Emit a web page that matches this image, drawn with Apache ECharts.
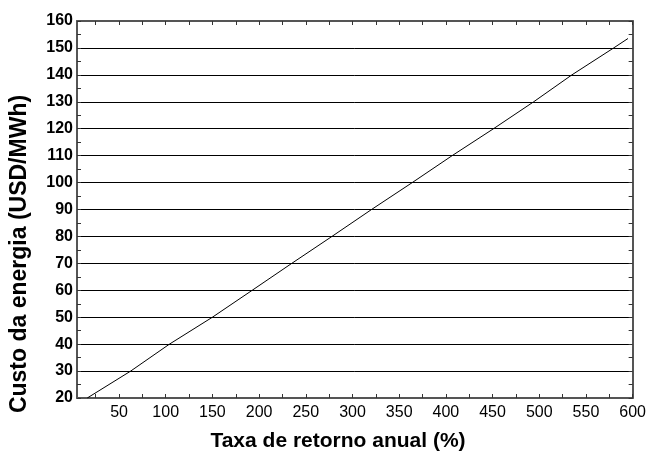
<!DOCTYPE html>
<html>
<head>
<meta charset="utf-8">
<script src="https://cdn.jsdelivr.net/npm/echarts@6/dist/echarts.min.js"></script>
<style>html,body{margin:0;padding:0;background:#fff}#c{width:649px;height:452px}</style>
</head>
<body>
<div id="c"></div>
<script>
// Data
var taxa = [16, 62.5, 104, 150, 192.6, 235, 278, 320.4, 364, 406.7, 451, 494, 535, 579.7, 595];
var custo = [20, 30, 40, 50, 60, 70, 80, 90, 100, 110, 120, 130, 140, 150, 153.5];
var xLabels = [50, 100, 150, 200, 250, 300, 350, 400, 450, 500, 550, 600];
var xTicks = [25, 50, 75, 100, 125, 150, 175, 200, 225, 250, 275, 300, 325, 350, 375, 400, 425, 450, 475, 500, 525, 550, 575, 600];
var yLabels = [20, 30, 40, 50, 60, 70, 80, 90, 100, 110, 120, 130, 140, 150, 160];
var yTicks = [20, 25, 30, 35, 40, 45, 50, 55, 60, 65, 70, 75, 80, 85, 90, 95, 100, 105, 110, 115, 120, 125, 130, 135, 140, 145, 150, 155, 160];
var xTitle = 'Taxa de retorno anual (%)';
var yTitle = 'Custo da energia (USD/MWh)';

var data = taxa.map(function (x, i) { return [x, custo[i]]; });
var font = '"Liberation Sans", Arial, sans-serif';
var axisLineStyle = { color: '#555', width: 2 };

function xAxisDef(pos, showLabel) {
  return {
    type: 'value', position: pos, min: 5, max: 600,
    axisLine: { show: true, onZero: false, lineStyle: axisLineStyle },
    axisTick: { show: true, inside: true, length: 4, customValues: xTicks, lineStyle: { color: '#333', width: 1 } },
    axisLabel: { show: showLabel, customValues: xLabels, color: '#000', fontFamily: font, fontSize: 16, margin: 7 },
    splitLine: { show: false }
  };
}
function yAxisDef(pos, showLabel) {
  return {
    type: 'value', position: pos, min: 20, max: 160, interval: 10,
    axisLine: { show: true, onZero: false, lineStyle: axisLineStyle },
    axisTick: { show: true, inside: true, length: 4, customValues: yTicks, lineStyle: { color: '#333', width: 1 } },
    axisLabel: { show: showLabel, customValues: yLabels, color: '#000', fontFamily: font, fontSize: 16, fontWeight: 'bold', margin: 4 },
    splitLine: { show: false }
  };
}

var chart = echarts.init(document.getElementById('c'), null, { renderer: 'canvas' });
chart.setOption({
  animation: false,
  backgroundColor: '#fff',
  grid: { left: 77, right: 15, top: 21, bottom: 54 },
  xAxis: [xAxisDef('bottom', true), xAxisDef('top', false)],
  yAxis: [
    {
      type: 'value', position: 'left', min: 20, max: 160, interval: 10, z: 0,
      axisLine: { show: false }, axisTick: { show: false }, axisLabel: { show: false },
      splitLine: { show: true, lineStyle: { color: '#000', width: 1 } }
    },
    yAxisDef('left', true),
    yAxisDef('right', false)
  ],
  series: [{
    type: 'line', data: data, xAxisIndex: 0, yAxisIndex: 0,
    showSymbol: false, symbol: 'none',
    lineStyle: { color: '#000', width: 1 }
  }],
  graphic: [
    { type: 'text', x: 338, y: 441, style: { text: xTitle, fill: '#000', font: 'bold 21px ' + font, textAlign: 'center', textVerticalAlign: 'middle' } },
    { type: 'text', x: 20, y: 254, rotation: Math.PI / 2, style: { text: yTitle, fill: '#000', font: 'bold 23px ' + font, textAlign: 'center', textVerticalAlign: 'middle' } }
  ]
});
</script>
</body>
</html>
